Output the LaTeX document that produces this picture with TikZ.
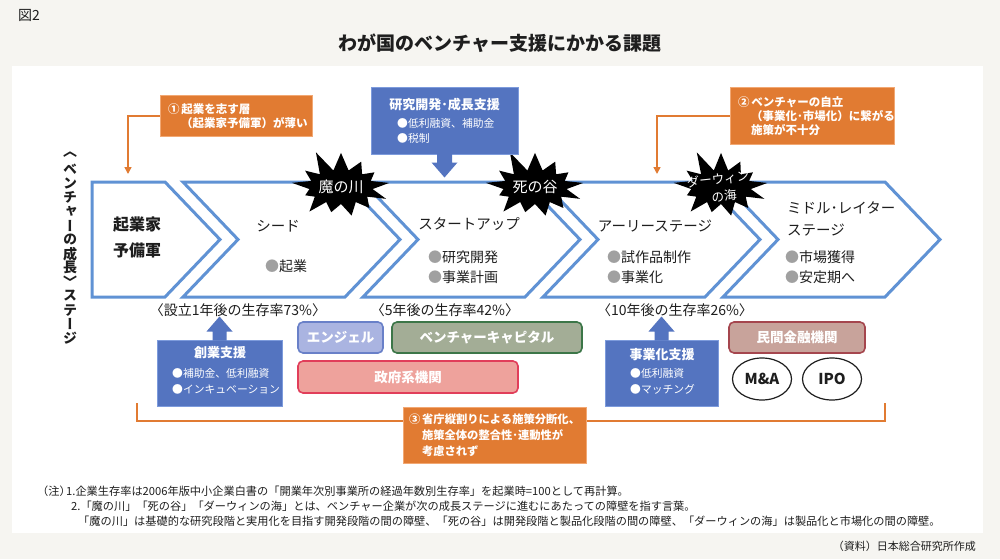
\documentclass[tikz,border=0pt]{standalone}
\usepackage{fontspec}
\setmainfont{Noto Sans CJK JP}
\newfontfamily\vertjp[RawFeature=+vert]{Noto Sans CJK JP}
\usetikzlibrary{shapes.symbols,shapes.geometric,arrows.meta,calc}

\definecolor{paper}{RGB}{246,245,241}
\definecolor{ink}{RGB}{30,30,30}
\definecolor{stageblue}{RGB}{96,146,212}
\definecolor{supblue}{RGB}{84,116,192}
\definecolor{supline}{RGB}{125,155,220}
\definecolor{issuefill}{RGB}{225,123,50}
\definecolor{issueedge}{RGB}{242,168,115}
\definecolor{bulletgray}{RGB}{160,160,160}
\definecolor{angelfill}{RGB}{170,180,225}
\definecolor{angelline}{RGB}{105,128,200}
\definecolor{vcfill}{RGB}{163,173,150}
\definecolor{vcline}{RGB}{60,118,72}
\definecolor{govfill}{RGB}{238,162,156}
\definecolor{govline}{RGB}{225,62,90}
\definecolor{bankfill}{RGB}{200,163,155}
\definecolor{bankline}{RGB}{165,70,78}

\newcommand{\fsz}[2]{\fontsize{#1}{#2}\selectfont}
\newcommand{\gb}{{\color{bulletgray}●}}
\newcommand{\issueind}{\hspace*{13pt}}

\tikzset{
  stagebox/.style={draw=stageblue, line width=3pt, fill=white, line join=miter},
  stagename/.style={font=\fsz{14.5}{22}, align=left},
  stageitem/.style={font=\fsz{14}{20}, align=left},
  rate/.style={font=\fsz{14}{16}},
  barrier/.style={starburst, fill=black, text=white, font=\fsz{15}{15},
    minimum width=106pt, minimum height=80pt, starburst points=13,
    starburst point height=23pt, random starburst=11},
  support/.style={fill=supblue, draw=supline, line width=1pt},
  suptitle/.style={text=white, font=\fsz{13}{15}\bfseries},
  supitem/.style={text=white, font=\fsz{10.8}{15.5}, align=left},
  issue/.style={fill=issuefill, draw=issueedge, line width=1pt, text=white,
    align=left, inner xsep=8pt, inner ysep=0pt},
  issueflow/.style={draw=issuefill, line width=1.5pt, -{Triangle[width=7pt,length=7pt]}},
  bracket/.style={draw=issuefill, line width=2pt},
  fund/.style={rounded corners=5pt, line width=1.6pt, minimum height=31pt,
    text=white, font=\fsz{13.5}{15}\bfseries},
  exitnode/.style={ellipse, draw=ink, line width=1.2pt, fill=white,
    minimum width=59pt, minimum height=42pt, font=\fsz{15}{15}\bfseries},
  note/.style={anchor=west, font=\fsz{11.2}{13}}
}

\begin{document}
\begin{tikzpicture}[x=1pt, y=-1pt, every node/.style={inner sep=0pt, text=ink}]
\fill[paper] (0,0) rectangle (1000,559);
\fill[white] (12,66) rectangle (983,533);
\useasboundingbox (0,0) rectangle (1000,559);

% title
\node[anchor=west, font=\fsz{14}{14}] (fig) at (18,15) {図2};
\node[font=\fsz{19}{19}\bfseries] (title) at (500,43) {わが国のベンチャー支援にかかる課題};

% growth stages
\draw[stagebox] (92,182) -- (165,182) -- (220,239.5) -- (165,297) -- (92,297) -- cycle;
\foreach \l in {183,363,543,723}
  \draw[stagebox] (\l,182) -- (\l+162,182) -- (\l+217,239.5) -- (\l+162,297)
    -- (\l,297) -- (\l+55,239.5) -- cycle;

% barriers
\node[barrier] (kawa) at (341,187) {魔の川};
\node[barrier] (tani) at (535,187) {死の谷};
\node[barrier] (umi) at (721,187) {};
\node[text=white, font=\fsz{12.5}{12.5}, rotate=6] (umit1) at (718,179) {ダーウィン};
\node[text=white, font=\fsz{12.5}{12.5}, rotate=6] (umit2) at (724,196) {の海};

% stage texts
\node[font=\fsz{16}{26}\bfseries, align=center] (st1) at (137,237) {起業家\\予備軍};
\node[stagename] (st2) at (278,226) {シード};
\node[stageitem] (it2) at (286,266) {\gb 起業};
\node[stagename] (st3) at (469,224) {スタートアップ};
\node[stageitem, anchor=west] (it3) at (428,267) {\gb 研究開発\\\gb 事業計画};
\node[stagename] (st4) at (655,226) {アーリーステージ};
\node[stageitem, anchor=west] (it4) at (607,267) {\gb 試作品制作\\\gb 事業化};
\node[stagename, anchor=west] (st5) at (787,219) {ミドル･レイター\\ステージ};
\node[stageitem, anchor=west] (it5) at (785,267) {\gb 市場獲得\\\gb 安定期へ};

% survival rates
\node[rate] (r1) at (238,310) {〈設立1年後の生存率73\%〉};
\node[rate] (r2) at (445,310) {〈5年後の生存率42\%〉};
\node[rate] (r3) at (675,310) {〈10年後の生存率26\%〉};

% vertical label
\foreach \ch [count=\i from 0] in {〈,ベ,ン,チ,ャ,ー,の,成,長,〉,ス,テ,ー,ジ}
  \node[font=\vertjp\fsz{14}{14}\bfseries] (vl\i) at (70,155+14.1*\i) {\ch};

% R&D support
\node[support, minimum width=147pt, minimum height=66pt] (rd) at (444.5,121) {};
\node[suptitle] (rdt) at (444.5,105) {研究開発･成長支援};
\node[supitem, anchor=west] (rdi) at (397,131) {●低利融資、補助金\\●税制};
\fill[supblue] ($(rd.south)+(-7.5,-1)$) -- ++(0,9) -- ++(-5.5,0) -- ++(13,15)
  -- ++(13,-15) -- ++(-5.5,0) -- ++(0,-9) -- cycle;

% founding support
\node[support, minimum width=125pt, minimum height=66pt] (cs) at (219.5,373) {};
\node[suptitle] (cst) at (220,353) {創業支援};
\node[supitem, anchor=west] (csi) at (172,381.5) {●補助金、低利融資\\●インキュベーション};
\fill[supblue] ($(cs.north)+(-7,1)$) -- ++(0,-9) -- ++(-6,0) -- ++(13,-15)
  -- ++(13,15) -- ++(-6,0) -- ++(0,9) -- cycle;

% commercialisation support
\node[support, minimum width=113pt, minimum height=66pt] (bs) at (661.5,373) {};
\node[suptitle] (bst) at (662,355) {事業化支援};
\node[supitem, anchor=west] (bsi) at (630,381.5) {●低利融資\\●マッチング};
\fill[supblue] ($(bs.north)+(-7,1)$) -- ++(0,-9) -- ++(-6,0) -- ++(13,-15)
  -- ++(13,15) -- ++(-6,0) -- ++(0,9) -- cycle;

% funding bodies
\node[fund, fill=angelfill, draw=angelline, minimum width=85pt] (angel) at (340.5,337.5) {\color{white}エンジェル};
\node[fund, fill=vcfill, draw=vcline, minimum width=190pt] (vc) at (487,337.5) {\color{white}ベンチャーキャピタル};
\node[fund, fill=govfill, draw=govline, minimum width=220pt, minimum height=32pt] (gov) at (408,377) {\color{white}政府系機関};
\node[fund, fill=bankfill, draw=bankline, minimum width=136pt] (bank) at (797,337.5) {\color{white}民間金融機関};
\node[exitnode] (ma) at (762,379) {M\&A};
\node[exitnode] (ipo) at (832,379) {IPO};

% issues
\node[issue, text width=136pt, minimum height=40pt, font=\fsz{11.5}{14}\bfseries] (iss1) at (236,116)
  {\color{white}①\,起業を志す層\\\issueind（起業家予備軍）が薄い};
\coordinate (in1) at (128,174);
\draw[issueflow] (iss1.west) -| (in1);

\node[issue, text width=148pt, minimum height=56pt, font=\fsz{11.5}{14}\bfseries] (iss2) at (812,116)
  {\color{white}②\,ベンチャーの自立\\\issueind（事業化･市場化）に繋がる\\\issueind 施策が不十分};
\coordinate (in2) at (657,174);
\draw[issueflow] (iss2.west) -| (in2);

\coordinate (brLt) at (137,403);
\coordinate (brLb) at (137,421);
\coordinate (brRb) at (885,421);
\coordinate (brRt) at (885,403);
\draw[bracket] (brLt) -- (brLb) -- (brRb) -- (brRt);
\node[issue, inner xsep=6pt, text width=171pt, minimum height=56pt, font=\fsz{11.3}{16}\bfseries] (iss3) at (494.5,435)
  {\color{white}③\,省庁縦割りによる施策分断化、\\\issueind 施策全体の整合性･連動性が\\\issueind 考慮されず};

% notes
\node[note] (n0) at (37,491) {（注）};
\node[note] (n1) at (66,491) {1.企業生存率は2006年版中小企業白書の「開業年次別事業所の経過年数別生存率」を起業時=100として再計算。};
\node[note] (n2) at (71,506) {2.「魔の川」「死の谷」「ダーウィンの海」とは、ベンチャー企業が次の成長ステージに進むにあたっての障壁を指す言葉。};
\node[note] (n3) at (78,521) {「魔の川」は基礎的な研究段階と実用化を目指す開発段階の間の障壁、「死の谷」は開発段階と製品化段階の間の障壁、「ダーウィンの海」は製品化と市場化の間の障壁。};
\node[anchor=east, font=\fsz{11}{13}] (src) at (976,546) {（資料）日本総合研究所作成};
\end{tikzpicture}
\end{document}
